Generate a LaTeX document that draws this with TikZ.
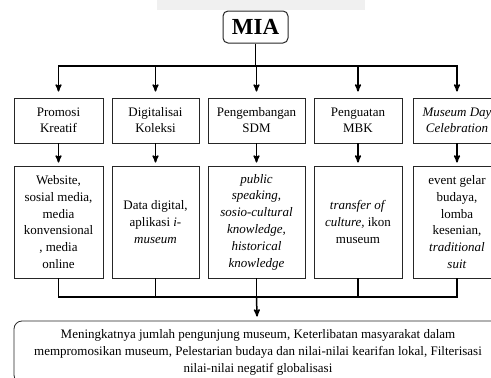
\documentclass[tikz,border=0pt]{standalone}
\usepackage{fontspec}
\setmainfont{Liberation Serif}
\usetikzlibrary{arrows}
\tikzset{
  topbox/.style={draw=black!85, line width=0.8pt, minimum height=45pt, inner sep=0pt,
    align=center, font=\fontsize{13}{16}\selectfont},
  subbox/.style={draw=black!85, line width=0.8pt, minimum height=112pt, inner sep=0pt,
    align=center, font=\fontsize{13}{16.8}\selectfont},
  link/.style={black, line width=1.5pt, >=stealth'},
}

\begin{document}
\begin{tikzpicture}[x=1pt,y=-1pt]
\useasboundingbox (0,0) rectangle (491,378);
\clip (0,0) rectangle (491,378);
\fill[black!6] (157,0) rectangle (365,10);

% root
\node[draw=black!85, rounded corners=5pt, line width=1pt, minimum width=65pt, minimum height=32pt,
  font=\fontsize{23}{23}\selectfont\bfseries] (mia) at (255.5,27) {MIA};

% programmes
\node[topbox, minimum width=89pt] (promosi) at (58.5,120.5) {Promosi\\Kreatif};
\node[topbox, minimum width=87pt] (digital) at (155.5,120.5) {Digitalisai\\Koleksi};
\node[topbox, minimum width=97pt] (sdm) at (256.5,120.5) {Pengembangan\\SDM};
\node[topbox, minimum width=88pt] (mbk) at (358,120.5) {Penguatan\\MBK};
\node[topbox, minimum width=88pt] (museumday) at (457,120.5) {\textit{Museum Day}\\\textit{Celebration}};

% activities
\node[subbox, minimum width=89pt] (website) at (58.5,222) {Website,\\sosial media,\\media\\konvensional\\, media\\online};
\node[subbox, minimum width=87pt] (data) at (155.5,222) {Data digital,\\aplikasi \textit{i-}\\\textit{museum}};
\node[subbox, minimum width=97pt] (speaking) at (256.5,222) {\textit{public}\\\textit{speaking,}\\\textit{sosio-cultural}\\\textit{knowledge,}\\\textit{historical}\\\textit{knowledge}};
\node[subbox, minimum width=88pt] (transfer) at (358,222) {\textit{transfer of}\\\textit{culture,} ikon\\museum};
\node[subbox, minimum width=88pt] (event) at (457,222) {event gelar\\budaya,\\lomba\\kesenian,\\\textit{traditional}\\\textit{suit}};

% outcome
\node[draw=black!85, rounded corners=8pt, line width=0.8pt, minimum width=488pt, minimum height=62pt,
  inner sep=0pt, align=center, font=\fontsize{13}{17}\selectfont] (hasil) at (258,352)
  {Meningkatnya jumlah pengunjung museum, Keterlibatan masyarakat dalam\\
   mempromosikan museum, Pelestarian budaya dan nilai-nilai kearifan lokal, Filterisasi\\
   nilai-nilai negatif globalisasi};

\coordinate (split) at (255.5,66);
\coordinate (join) at (256.5,297);
\draw[link] (mia) -- (split);
\foreach \n in {promosi,digital,sdm,mbk,museumday}
  \draw[link,->,shorten >=6pt] (split) -| (\n.north);
\draw[link,->,shorten >=3pt] (promosi) -- (website);
\draw[link,->,shorten >=3pt] (digital) -- (data);
\draw[link,->,shorten >=3pt] (sdm) -- (speaking);
\draw[link,->,shorten >=3pt] (mbk) -- (transfer);
\draw[link,->,shorten >=3pt] (museumday) -- (event);
\foreach \n in {website,data,speaking,transfer,event}
  \draw[link] (\n.south) |- (join);
\draw[link,->,shorten >=4pt] (join) -- (hasil);
\end{tikzpicture}
\end{document}
